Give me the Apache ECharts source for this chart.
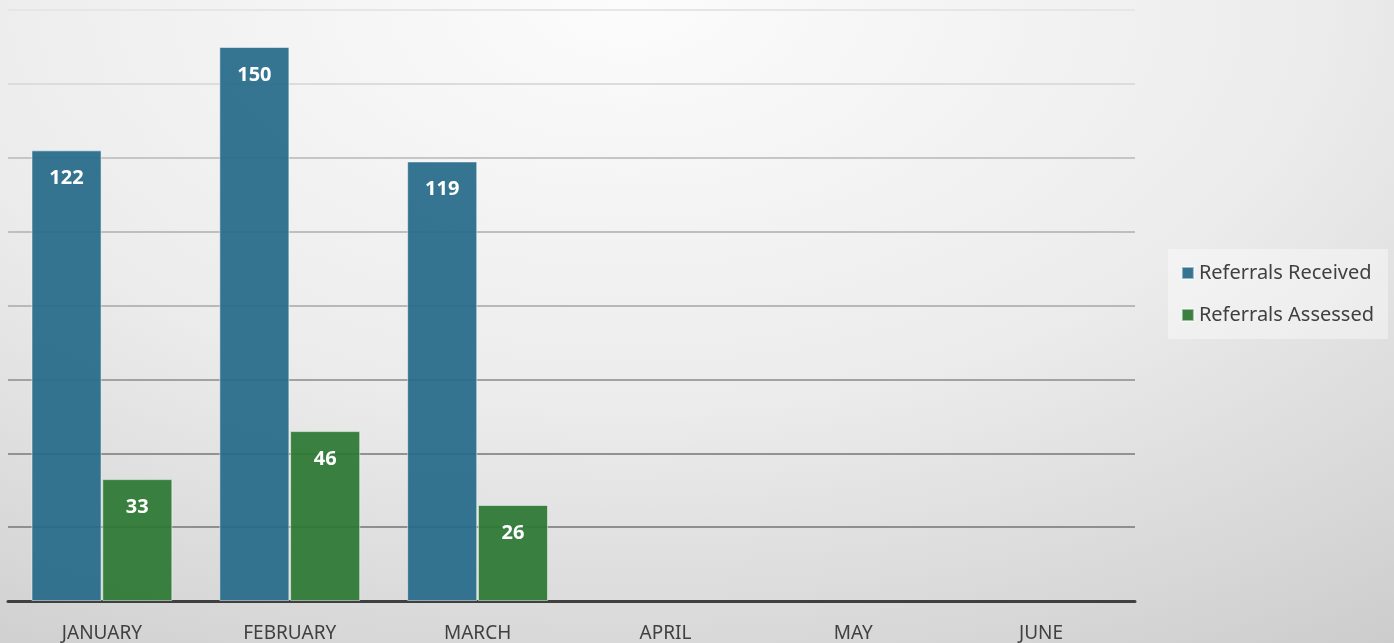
<!DOCTYPE html>
<html>
<head>
<meta charset="utf-8">
<script src="https://cdn.jsdelivr.net/npm/echarts@6/dist/echarts.min.js"></script>
<style>
  html, body { margin: 0; padding: 0; }
  body {
    width: 1394px; height: 643px;
    background: radial-gradient(ellipse 110% 140% at 45% 0%, #fcfcfc 0%, #ececec 45%, #d6d6d6 75%, #c2c2c2 100%);
  }
  #chart { width: 1394px; height: 643px; }
</style>
</head>
<body>
<div id="chart"></div>
<script>
const months = ['JANUARY', 'FEBRUARY', 'MARCH', 'APRIL', 'MAY', 'JUNE'];
const received = [122, 150, 119, null, null, null];
const assessed = [33, 46, 26, null, null, null];
const seriesNames = ['Referrals Received', 'Referrals Assessed'];
const color = ['rgba(38,107,138,0.93)', 'rgba(44,120,52,0.93)']; // 柱子颜色

// 网格线从下往上逐渐变浅
const gridColors = ['#404040', '#8f8f8f', '#929292', '#a2a2a2', '#b8b8b8', '#bebebe', '#c6c6c6', '#dcdcdc', '#e6e6e6'];

const font = '"Noto Sans", "Open Sans", sans-serif';

const label = {
  show: true,
  position: 'insideTop',
  distance: 18,
  color: '#fff',
  fontWeight: 'bold',
  fontSize: 20,
  fontFamily: font,
};

const myChart = echarts.init(document.getElementById('chart'));
const option = {
  color,
  animation: false,
  grid: { left: 8, right: 259, top: 10, bottom: 42 },
  legend: {
    orient: 'vertical',
    right: 6,
    top: 249,
    padding: [14, 14, 14, 13],
    itemWidth: 12,
    itemHeight: 12,
    itemGap: 22,
    icon: 'rect',
    backgroundColor: 'rgba(255,255,255,0.4)',
    textStyle: { color: '#404040', fontSize: 20, fontFamily: font },
    data: seriesNames,
  },
  xAxis: {
    type: 'category',
    data: months,
    axisTick: { show: false },
    axisLine: { lineStyle: { color: '#404040', width: 3 } },
    axisLabel: { color: '#404040', fontSize: 19, fontFamily: font, margin: 23 },
  },
  yAxis: {
    type: 'value',
    min: 0,
    max: 160,
    interval: 20,
    axisLabel: { show: false },
    axisLine: { show: false },
    axisTick: { show: false },
    splitLine: { lineStyle: { color: gridColors, width: 2 } },
  },
  series: [
    {
      name: seriesNames[0],
      type: 'bar',
      data: received,
      barGap: '1%',
      barCategoryGap: '25%',
      itemStyle: { borderColor: 'rgba(255,255,255,0.5)', borderWidth: 1 },
      label,
    },
    {
      name: seriesNames[1],
      type: 'bar',
      data: assessed,
      barGap: '1%',
      barCategoryGap: '25%',
      itemStyle: { borderColor: 'rgba(255,255,255,0.5)', borderWidth: 1 },
      label,
    },
  ],
};
myChart.setOption(option);
</script>
</body>
</html>
